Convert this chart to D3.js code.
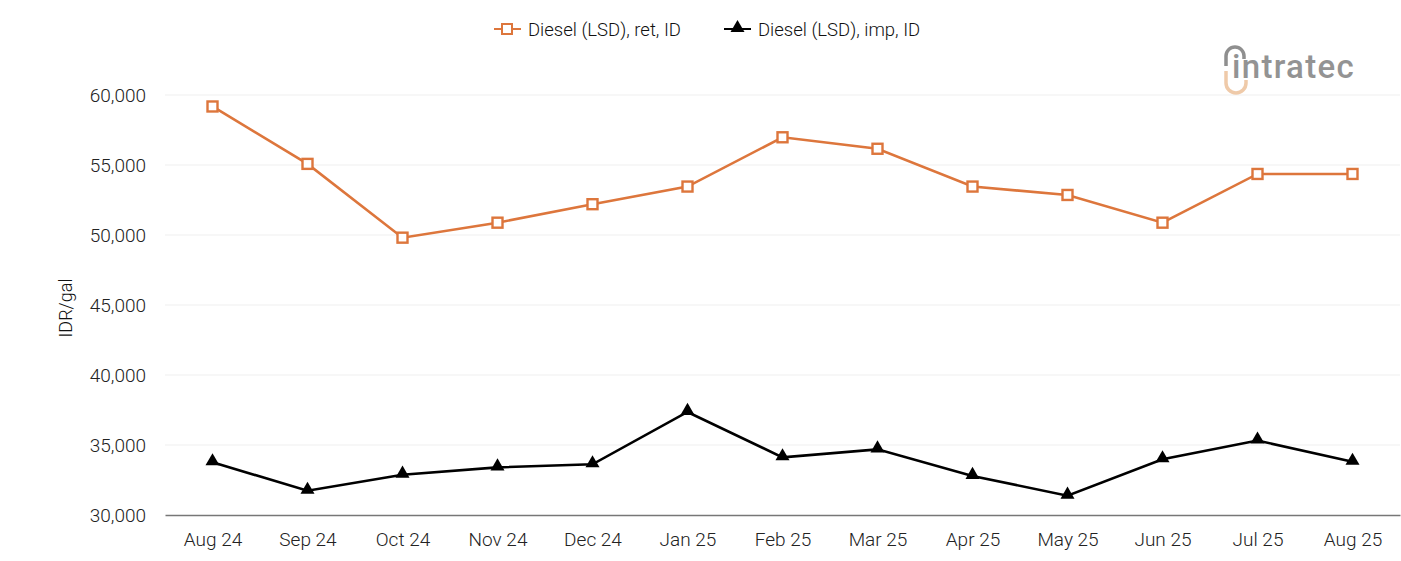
<!DOCTYPE html>
<html>
<head>
<meta charset="utf-8">
<script src="https://cdn.jsdelivr.net/npm/d3@7"></script>
<style>
  body { margin: 0; background: #fff; }
  text { font-family: Roboto, "Noto Sans", sans-serif; }
</style>
</head>
<body>
<svg width="1401" height="561"></svg>
<script>
// Chart data
var months = ["Aug 24", "Sep 24", "Oct 24", "Nov 24", "Dec 24", "Jan 25", "Feb 25",
  "Mar 25", "Apr 25", "May 25", "Jun 25", "Jul 25", "Aug 25"];
var retail = [59180, 55080, 49810, 50880, 52200, 53460, 56980, 56160, 53460, 52860, 50880, 54360, 54360];
var imports = [33770, 31730, 32880, 33400, 33620, 37360, 34120, 34690, 32790, 31380, 33980, 35320, 33800];
var yTicks = [30000, 35000, 40000, 45000, 50000, 55000, 60000];
var seriesNames = ["Diesel (LSD), ret, ID", "Diesel (LSD), imp, ID"];

var orange = "#dd763c";

var svg = d3.select("svg"),
  margin = { top: 95, right: 1, bottom: 46, left: 165 },
  width = +svg.attr("width") - margin.left - margin.right,
  height = +svg.attr("height") - margin.top - margin.bottom;

var g = svg.append("g")
  .attr("transform", "translate(" + margin.left + "," + margin.top + ")");

var x = d3.scalePoint().domain(months).range([0, width]).padding(0.5);
var y = d3.scaleLinear().domain([30000, 60000]).range([height, 0]);

// gridlines
g.append("g")
  .selectAll("line")
  .data(yTicks.slice(1))
  .enter()
  .append("line")
  .attr("x1", 0)
  .attr("x2", width)
  .attr("y1", (d) => y(d))
  .attr("y2", (d) => y(d))
  .attr("stroke", "#efefef")
  .attr("stroke-width", 1);

// y axis
var yAxis = g.append("g")
  .call(d3.axisLeft(y).tickValues(yTicks).tickFormat(d3.format(",")).tickSize(0).tickPadding(19));
yAxis.select(".domain").remove();
yAxis.selectAll("text").attr("font-size", 19).attr("font-weight", 300).attr("fill", "#222")
  .attr("font-family", "Roboto, sans-serif");

// x axis
var xAxis = g.append("g")
  .attr("transform", "translate(0," + height + ")")
  .call(d3.axisBottom(x).tickSize(0).tickPadding(18));
xAxis.select(".domain").attr("stroke", "#777").attr("stroke-width", 1.3);
xAxis.selectAll("text").attr("font-size", 19).attr("font-weight", 300).attr("fill", "#222")
  .attr("font-family", "Roboto, sans-serif");

// y axis label
svg.append("text")
  .attr("transform", "translate(72," + (margin.top + height / 2 + 3) + ") rotate(-90)")
  .attr("text-anchor", "middle")
  .attr("font-size", 18)
  .attr("font-weight", 300)
  .attr("fill", "#111")
  .text("IDR/gal");

var line = d3.line()
  .x((d, i) => x(months[i]))
  .y((d) => y(d));

// retail series
g.append("path")
  .datum(retail)
  .attr("fill", "none")
  .attr("stroke", orange)
  .attr("stroke-width", 2.6)
  .attr("d", line);

g.selectAll(".sq")
  .data(retail)
  .enter()
  .append("rect")
  .attr("class", "sq")
  .attr("x", (d, i) => x(months[i]) - 5)
  .attr("y", (d) => y(d) - 5)
  .attr("width", 10)
  .attr("height", 10)
  .attr("fill", "#fff")
  .attr("stroke", orange)
  .attr("stroke-width", 2.4);

// import series
g.append("path")
  .datum(imports)
  .attr("fill", "none")
  .attr("stroke", "#000")
  .attr("stroke-width", 2.6)
  .attr("d", line);

var tri = d3.symbol().type(d3.symbolTriangle).size(85);
g.selectAll(".tri")
  .data(imports)
  .enter()
  .append("path")
  .attr("class", "tri")
  .attr("d", tri)
  .attr("transform", (d, i) => "translate(" + x(months[i]) + "," + (y(d) - 1) + ")")
  .attr("fill", "#000");

// legend
var legend = svg.append("g").attr("transform", "translate(0,29)");
legend.append("line").attr("x1", 494).attr("x2", 521).attr("y1", 0).attr("y2", 0)
  .attr("stroke", orange).attr("stroke-width", 2);
legend.append("rect").attr("x", 502).attr("y", -5).attr("width", 10).attr("height", 10)
  .attr("fill", "#fff").attr("stroke", orange).attr("stroke-width", 2);
legend.append("text").attr("x", 528).attr("y", 6.5).attr("font-size", 18.5).attr("font-weight", 300)
  .attr("fill", "#111").text(seriesNames[0]);
legend.append("line").attr("x1", 724).attr("x2", 751).attr("y1", 0).attr("y2", 0)
  .attr("stroke", "#000").attr("stroke-width", 2);
legend.append("path").attr("d", tri).attr("transform", "translate(737.5,-1)").attr("fill", "#000");
legend.append("text").attr("x", 758).attr("y", 6.5).attr("font-size", 18.5).attr("font-weight", 300)
  .attr("fill", "#111").text(seriesNames[1]);

// logo
var logo = svg.append("g").attr("transform", "translate(1222,44)");
logo.append("path")
  .attr("d", "M4,22 L4,12 A9,9 0 0 1 22,12 L22,15")
  .attr("fill", "none").attr("stroke", "#8f8f8f").attr("stroke-width", 3.5);
logo.append("path")
  .attr("d", "M4,27 L4,39 A10,10 0 0 0 24,39 L24,36")
  .attr("fill", "none").attr("stroke", "#efcaa9").attr("stroke-width", 3.5);
logo.append("text")
  .attr("x", 10).attr("y", 34)
  .attr("font-size", 33)
  .attr("font-weight", 500)
  .attr("fill", "#939393")
  .attr("letter-spacing", 1.3)
  .text("intratec");
</script>
</body>
</html>
